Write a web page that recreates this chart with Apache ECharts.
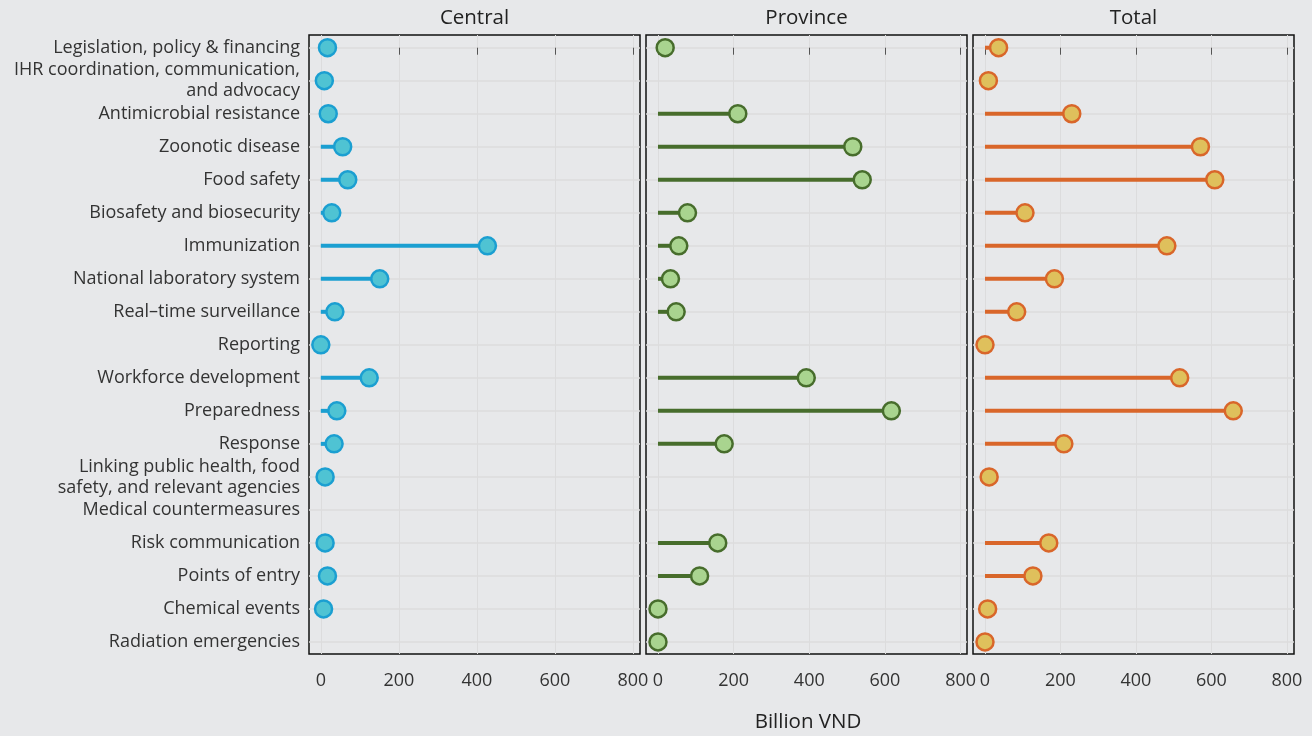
<!DOCTYPE html>
<html>
<head>
<meta charset="utf-8">
<script src="https://cdn.jsdelivr.net/npm/echarts@6/dist/echarts.min.js"></script>
<style>
html,body{margin:0;padding:0;background:#e7e8ea;}
#chart{width:1312px;height:736px;}
</style>
</head>
<body>
<div id="chart"></div>
<script>
const categories = [
  "Legislation, policy & financing",
  "IHR coordination, communication,\nand advocacy",
  "Antimicrobial resistance",
  "Zoonotic disease",
  "Food safety",
  "Biosafety and biosecurity",
  "Immunization",
  "National laboratory system",
  "Real–time surveillance",
  "Reporting",
  "Workforce development",
  "Preparedness",
  "Response",
  "Linking public health, food\nsafety, and relevant agencies",
  "Medical countermeasures",
  "Risk communication",
  "Points of entry",
  "Chemical events",
  "Radiation emergencies"
];
const centralValues  = [17, 9, 19, 56, 69, 28, 427, 151, 36, 0, 124, 41, 34, 11, null, 11, 17, 7, null];
const provinceValues = [19, null, 211, 515, 540, 78, 55, 33, 48, null, 392, 617, 175, null, null, 158, 110, 0, 0];
const totalValues    = [36, 9, 230, 571, 609, 106, 482, 184, 84, 0, 516, 658, 209, 11, null, 169, 127, 7, 0];
const panelTitles = ["Central", "Province", "Total"];
const xTicks = [0, 200, 400, 600, 800];
const xAxisTitle = "Billion VND";

const FONT = "'Open Sans', Lato, sans-serif";
const panels = [
  {left: 309, width: 331, min: -30.3, max: 818, values: centralValues,  line: '#1b9fd1', fill: '#4fc3d3', border: '#1b9fd1'},
  {left: 646, width: 321, min: -31.7, max: 817, values: provinceValues, line: '#476d2c', fill: '#a9d48f', border: '#476d2c'},
  {left: 973, width: 321, min: -31.8, max: 819, values: totalValues,    line: '#d9662a', fill: '#dfc05c', border: '#d9662a'}
];
const TOP = 35, HEIGHT = 619;
const yIdx = categories.map((c, i) => i);

const grids = [], xAxes = [], yAxes = [], series = [], graphics = [];
panels.forEach((p, k) => {
  grids.push({left: p.left, top: TOP, width: p.width, height: HEIGHT, show: true,
    borderColor: '#111', borderWidth: 1.5, backgroundColor: 'transparent', containLabel: false});
  xAxes.push({type: 'value', gridIndex: k, min: p.min, max: p.max,
    axisLine: {show: false},
    axisTick: {show: true, customValues: xTicks, length: 7, lineStyle: {color: '#555', width: 1}},
    axisLabel: {customValues: xTicks, fontSize: 18, color: '#333', margin: 18, fontFamily: FONT},
    splitLine: {show: true, lineStyle: {color: '#dcdcdd', width: 1}}
  });
  yAxes.push({type: 'value', gridIndex: k, inverse: true, min: -0.385, max: 18.365,
    axisLine: {show: false},
    axisTick: {show: false, customValues: yIdx},
    axisLabel: {show: k === 0, customValues: yIdx, fontSize: 18, color: '#333', margin: 9,
      lineHeight: 21, fontFamily: FONT, align: 'right',
      formatter: v => categories[Math.round(v)]},
    splitLine: {show: true, lineStyle: {color: '#dcdcdd', width: 1.5}}
  });
  const pts = [];
  p.values.forEach((v, i) => { if (v !== null) pts.push([v, i]); });
  series.push({type: 'custom', xAxisIndex: k, yAxisIndex: k, z: 2, silent: true,
    data: pts,
    renderItem: (params, api) => {
      const a = api.coord([0, api.value(1)]);
      const b = api.coord([api.value(0), api.value(1)]);
      return {type: 'line', shape: {x1: a[0], y1: a[1], x2: b[0], y2: b[1]},
        style: {stroke: p.line, lineWidth: 4}};
    }
  });
  series.push({type: 'scatter', xAxisIndex: k, yAxisIndex: k, z: 3, silent: true,
    data: pts, symbol: 'circle', symbolSize: 17,
    itemStyle: {color: p.fill, borderColor: p.border, borderWidth: 2.5, opacity: 1}
  });
  graphics.push({type: 'text', x: p.left + p.width / 2, y: 18,
    style: {text: panelTitles[k], fontSize: 20.5, fill: '#222', fontFamily: FONT,
      textAlign: 'center', textVerticalAlign: 'middle'}});
});
graphics.push({type: 'text', x: 808, y: 722,
  style: {text: xAxisTitle, fontSize: 20.5, fill: '#222', fontFamily: FONT,
    textAlign: 'center', textVerticalAlign: 'middle'}});

const chart = echarts.init(document.getElementById('chart'), null, {renderer: 'canvas'});
chart.setOption({
  backgroundColor: '#e7e8ea',
  animation: false,
  grid: grids, xAxis: xAxes, yAxis: yAxes, series: series, graphic: graphics
});
</script>
</body>
</html>
